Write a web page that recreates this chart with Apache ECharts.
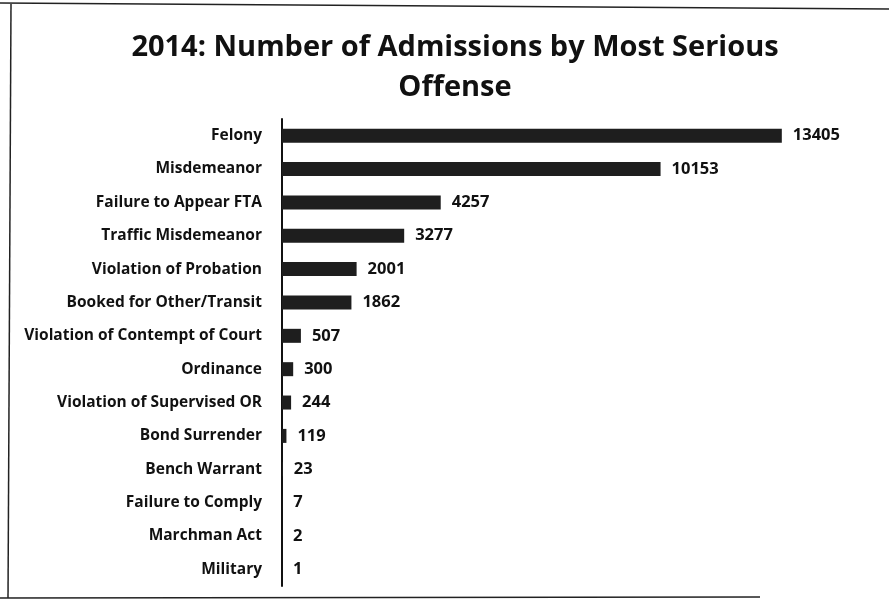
<!DOCTYPE html>
<html>
<head>
<meta charset="utf-8">
<script src="https://cdn.jsdelivr.net/npm/echarts@6/dist/echarts.min.js"></script>
<style>
  html, body { margin: 0; padding: 0; background: #fff; }
  #chart { width: 889px; height: 613px; }
</style>
</head>
<body>
<div id="chart"></div>
<script>
// Offense categories, listed top to bottom
const offenses = [
  'Felony', 'Misdemeanor', 'Failure to Appear FTA', 'Traffic Misdemeanor',
  'Violation of Probation', 'Booked for Other/Transit', 'Violation of Contempt of Court',
  'Ordinance', 'Violation of Supervised OR', 'Bond Surrender', 'Bench Warrant',
  'Failure to Comply', 'Marchman Act', 'Military'
];
// Admissions in 2014 for each offense
const admissions = [13405, 10153, 4257, 3277, 2001, 1862, 507, 300, 244, 119, 23, 7, 2, 1];

const chart = echarts.init(document.getElementById('chart'));
const FONT = '"Open Sans", Lato, sans-serif';

chart.setOption({
  backgroundColor: '#ffffff',
  animation: false,
  title: {
    text: '2014: Number of Admissions by Most Serious\nOffense',
    left: 450,
    top: 23,
    textAlign: 'center',
    textStyle: {
      fontFamily: FONT,
      fontWeight: 'bold',
      fontSize: 29,
      lineHeight: 40,
      color: '#111'
    }
  },
  grid: { left: 282, top: 119, width: 522, height: 467, containLabel: false },
  xAxis: {
    type: 'value',
    min: 0,
    max: 14000,
    show: false
  },
  yAxis: {
    type: 'category',
    data: offenses,
    inverse: true,
    axisLine: { show: true, lineStyle: { color: '#111', width: 2 } },
    axisTick: { show: false },
    axisLabel: {
      margin: 20,
      fontFamily: FONT,
      fontWeight: 'bold',
      fontSize: 15.5,
      color: '#111'
    }
  },
  series: [{
    type: 'bar',
    data: admissions,
    barWidth: 14,
    itemStyle: { color: '#1e1e1e' },
    label: {
      show: true,
      position: 'right',
      distance: 11,
      fontFamily: FONT,
      fontWeight: 'bold',
      fontSize: 16.5,
      color: '#111'
    }
  }],
  graphic: [
    // frame around the chart area
    { type: 'line', shape: { x1: 0, y1: 3, x2: 889, y2: 9 }, style: { stroke: '#222', lineWidth: 1.5 } },
    { type: 'line', shape: { x1: 11, y1: 4, x2: 8, y2: 598 }, style: { stroke: '#222', lineWidth: 1.5 } },
    { type: 'line', shape: { x1: 0, y1: 598, x2: 760, y2: 597 }, style: { stroke: '#222', lineWidth: 1.5 } }
  ]
});
</script>
</body>
</html>
